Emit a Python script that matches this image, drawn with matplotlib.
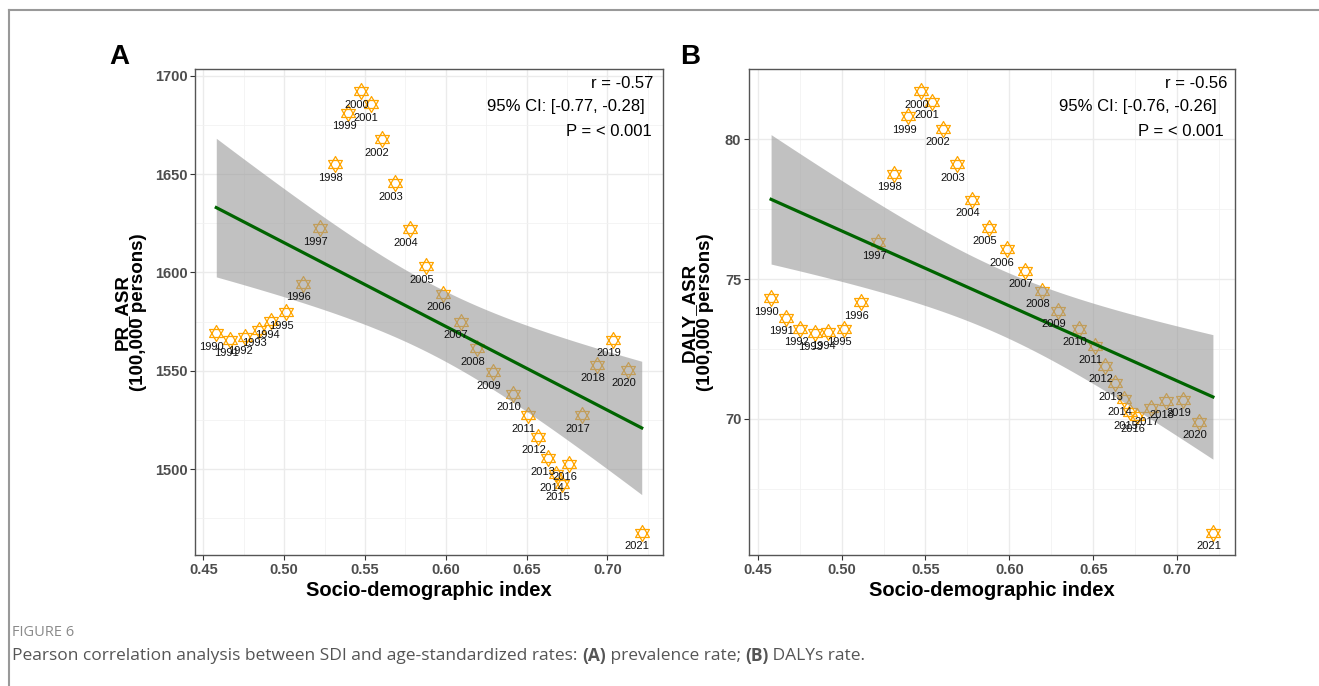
import numpy as np
import matplotlib
matplotlib.use("Agg")
import matplotlib.pyplot as plt
from matplotlib.path import Path
from matplotlib.lines import Line2D
from matplotlib.ticker import FixedLocator, FormatStrFormatter

years = list(range(1990, 2022))
sdi = [0.4580, 0.4668, 0.4755, 0.4842, 0.4921, 0.5012, 0.5118, 0.5220,
       0.5312, 0.5398, 0.5476, 0.5536, 0.5603, 0.5687, 0.5778, 0.5879,
       0.5983, 0.6092, 0.6194, 0.6291, 0.6415, 0.6511, 0.6571, 0.6630,
       0.6685, 0.6720, 0.6763, 0.6843, 0.6936, 0.7034, 0.7130, 0.7213]
pr_asr = [1569.0, 1565.7, 1567.0, 1570.8, 1575.2, 1579.8, 1594.2, 1622.6,
          1655.0, 1681.3, 1692.3, 1685.6, 1667.9, 1645.3, 1622.0, 1603.2,
          1589.1, 1575.0, 1561.4, 1549.2, 1538.4, 1527.4, 1516.3, 1505.5,
          1497.3, 1492.5, 1502.7, 1527.4, 1553.0, 1565.8, 1550.5, 1467.5]
daly_asr = [74.31, 73.61, 73.22, 73.06, 73.09, 73.22, 74.17, 76.32,
            78.77, 80.82, 81.72, 81.34, 80.38, 79.10, 77.84, 76.84,
            76.06, 75.30, 74.58, 73.87, 73.22, 72.59, 71.90, 71.27,
            70.71, 70.23, 70.11, 70.37, 70.62, 70.68, 69.90, 65.92]

x_ticks = [0.45, 0.50, 0.55, 0.60, 0.65, 0.70]
pr_ticks = [1500, 1550, 1600, 1650, 1700]
daly_ticks = [70, 75, 80]
stats_a = ["r = -0.57", "95% CI: [-0.77, -0.28]", "P = < 0.001"]
stats_b = ["r = -0.56", "95% CI: [-0.76, -0.26]", "P = < 0.001"]

W, H = 1319, 686
T_975 = 2.042  # t quantile, df = 30

plt.rcParams['font.family'] = ['Liberation Sans', 'DejaVu Sans']

# ggplot shape 11: two overlapping triangles
star = Path(np.array([[0, 1], [-0.866, -0.5], [0.866, -0.5], [0, 1],
                      [0, -1], [-0.866, 0.5], [0.866, 0.5], [0, -1]]),
            [Path.MOVETO, Path.LINETO, Path.LINETO, Path.CLOSEPOLY,
             Path.MOVETO, Path.LINETO, Path.LINETO, Path.CLOSEPOLY])


def fx(px):
    return px / W


def fy(py):
    return 1 - py / H


def panel(ax, x, y, yticks, yminor):
    x = np.array(x)
    y = np.array(y)
    ax.plot(x, y, linestyle='none', marker=star, markersize=11.5,
            markerfacecolor='none', markeredgecolor='#FFA500',
            markeredgewidth=0.9, zorder=2)
    for xi, yi, yr in zip(x, y, years):
        ax.annotate(str(yr), (xi, yi), xytext=(-3.2, -9.7),
                    textcoords='offset points', ha='center', va='center',
                    fontsize=8, color='#111111', zorder=5)

    # linear fit with 95% confidence band
    n = len(x)
    b, a = np.polyfit(x, y, 1)
    resid = y - (a + b * x)
    s = np.sqrt(np.sum(resid ** 2) / (n - 2))
    sxx = np.sum((x - x.mean()) ** 2)
    xs = np.linspace(x.min(), x.max(), 80)
    ys = a + b * xs
    se = s * np.sqrt(1 / n + (xs - x.mean()) ** 2 / sxx)
    ax.fill_between(xs, ys - T_975 * se, ys + T_975 * se, color='#999999',
                    alpha=0.6, linewidth=0, zorder=3)
    ax.plot(xs, ys, color='#006400', linewidth=2.3, zorder=4)

    pad_x = (x.max() - x.min()) * 0.05
    pad_y = (y.max() - y.min()) * 0.05
    ax.set_xlim(x.min() - pad_x, x.max() + pad_x)
    ax.set_ylim(y.min() - pad_y, y.max() + pad_y)

    ax.xaxis.set_major_locator(FixedLocator(x_ticks))
    ax.xaxis.set_minor_locator(FixedLocator([t + 0.025 for t in x_ticks]))
    ax.xaxis.set_major_formatter(FormatStrFormatter('%.2f'))
    ax.yaxis.set_major_locator(FixedLocator(yticks))
    ax.yaxis.set_minor_locator(FixedLocator(yminor))
    ax.set_axisbelow(True)
    ax.grid(which='major', color='#EBEBEB', linewidth=1.0)
    ax.grid(which='minor', color='#F2F2F2', linewidth=0.6)
    ax.tick_params(which='major', direction='out', length=3.5, width=0.8,
                   color='#333333', labelsize=10.5, labelcolor='#4D4D4D',
                   pad=2)
    ax.tick_params(which='minor', length=0)
    for lab in ax.get_xticklabels() + ax.get_yticklabels():
        lab.set_fontweight('bold')
    for sp in ax.spines.values():
        sp.set_color('#555555')
        sp.set_linewidth(1.0)
    ax.set_xlabel('Socio-demographic index', fontsize=14.5,
                  fontweight='bold', labelpad=3)


fig = plt.figure(figsize=(W / 100, H / 100), dpi=100)
ax_a = fig.add_axes([fx(195), fy(555), fx(663 - 195), (555 - 69) / H])
ax_b = fig.add_axes([fx(749), fy(555), fx(1235 - 749), (555 - 69) / H])

panel(ax_a, sdi, pr_asr, pr_ticks, [1475, 1525, 1575, 1625, 1675])
panel(ax_b, sdi, daly_asr, daly_ticks, [67.5, 72.5, 77.5, 82.5])

# y titles
fig.text(fx(130), fy(312), 'PR_ASR\n(100,000 persons)', rotation=90,
         ha='center', va='center', fontsize=13.5, fontweight='bold',
         linespacing=0.95, multialignment='center')
fig.text(fx(697), fy(312), 'DALY_ASR\n(100,000 persons)', rotation=90,
         ha='center', va='center', fontsize=13.5, fontweight='bold',
         linespacing=0.95, multialignment='center')

# panel letters
fig.text(fx(119), fy(57), 'A', ha='center', va='center', fontsize=20,
         fontweight='bold')
fig.text(fx(690), fy(57), 'B', ha='center', va='center', fontsize=20,
         fontweight='bold')

# correlation statistics
for lines, rights in ((stats_a, (653, 645, 652)), (stats_b, (1227, 1217, 1224))):
    for txt, xr, yy in zip(lines, rights, (83, 107, 131)):
        fig.text(fx(xr), fy(yy), txt, ha='right', va='center', fontsize=12,
                 color='black')

# outer frame
fig.add_artist(Line2D([fx(9), 1], [fy(10), fy(10)], color='#999999',
                      linewidth=1.5))
fig.add_artist(Line2D([fx(9), fx(9)], [fy(10), 0], color='#999999',
                      linewidth=1.5))

# caption
fig.text(fx(12), fy(632), 'FIGURE 6', family='Open Sans', fontsize=10.5,
         color='#8A8A8A', va='center')
renderer = fig.canvas.get_renderer()
parts = [("Pearson correlation analysis between SDI and age-standardized rates: ", 'normal'),
         ("(A)", 'bold'), (" prevalence rate; ", 'normal'),
         ("(B)", 'bold'), (" DALYs rate.", 'normal')]
xpos = fx(12)
for s, w in parts:
    t = fig.text(xpos, fy(656), s, family='Open Sans', fontsize=12.5,
                 fontweight=w, color='#555555', va='center')
    xpos += t.get_window_extent(renderer).width / W

fig.savefig('out.png', dpi=100)
